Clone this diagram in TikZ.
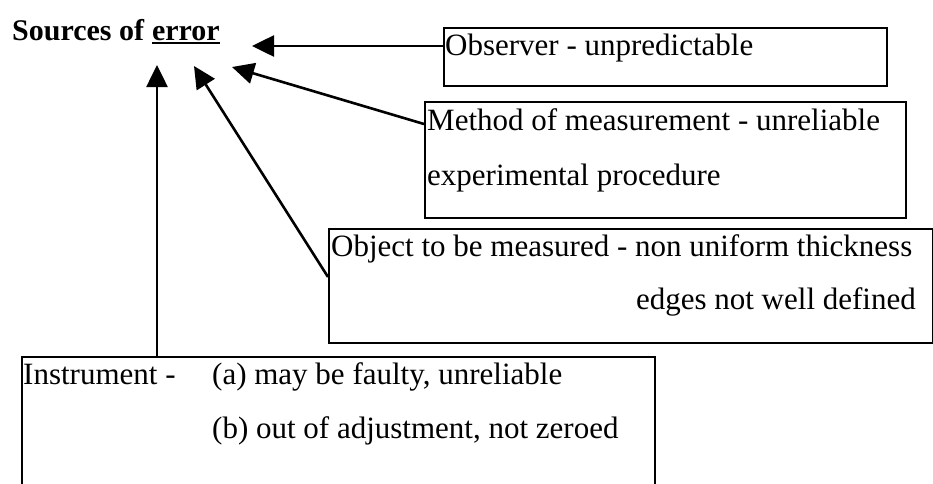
\documentclass[tikz,border=0pt]{standalone}
\usepackage{fontspec}
\setmainfont{Liberation Serif}
\usetikzlibrary{arrows.meta}
\tikzset{
  box/.style={draw, line width=1.5pt, rectangle, inner sep=0pt, anchor=north west},
  txt/.style={inner sep=0pt, anchor=base west, font=\fontsize{31}{37}\selectfont},
  ttl/.style={inner sep=0pt, anchor=base west, font=\fontsize{30}{36}\selectfont\bfseries},
  arr/.style={line width=2.6pt, -{Triangle[length=22pt,width=21pt]}, shorten >=0pt}
}
\begin{document}
\begin{tikzpicture}[x=1pt,y=-1pt]
\useasboundingbox (0,0) rectangle (933,483);
% title
\node[ttl] (title) at (12,40) {Sources of};
\node[ttl, anchor=base west, xshift=7.5pt] (err) at (title.base east) {error};
\draw[line width=2pt] ([yshift=-2.5pt]err.base west) -- ([yshift=-2.5pt]err.base east);
% boxes
\node[box, minimum width=443pt, minimum height=58pt] (obs) at (443,27) {};
\node[box, minimum width=481pt, minimum height=116pt] (meth) at (424,101) {};
\node[box, minimum width=604pt, minimum height=114pt] (obj) at (328,228) {};
\node[box, minimum width=633pt, minimum height=150pt] (ins) at (21,356) {};
% texts
\node[txt] (obst) at (445,55) {Observer - unpredictable};
\node[txt] (meth1) at (427,130) {Method of measurement - unreliable};
\node[txt] (meth2) at (427,185) {experimental procedure};
\node[txt] (obj1) at (331,256) {Object to be measured - non uniform thickness};
\node[txt, anchor=base east] (obj2) at (916,309) {edges not well defined};
\node[txt] (inst) at (23,384) {Instrument -};
\node[txt] (insa) at (212,384) {(a) may be faulty, unreliable};
\node[txt] (insb) at (212,438) {(b) out of adjustment, not zeroed};
% arrow tips
\coordinate (t1) at (252,46);
\coordinate (t2) at (232,67);
\coordinate (t3) at (194,66);
\coordinate (t4) at (157,65);
% connectors
\draw[arr] (obs.west |- t1) -- (t1);
\draw[arr] ([yshift=-23pt]meth.north west) -- (t2);
\draw[arr] ([yshift=-49pt]obj.north west) -- (t3);
\draw[arr] (ins.north -| t4) -- (t4);
\end{tikzpicture}
\end{document}
